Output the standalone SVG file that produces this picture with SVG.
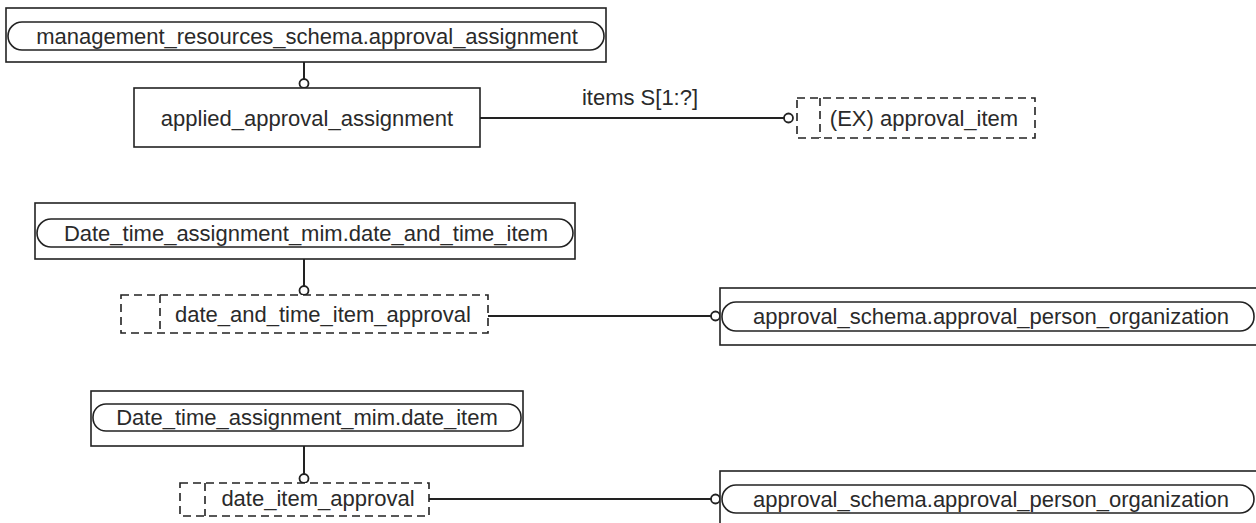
<svg xmlns="http://www.w3.org/2000/svg" width="1256" height="523" viewBox="0 0 1256 523">
<style>
.box{fill:#fff;stroke:#222;stroke-width:1.6}
.dash{fill:#fff;stroke:#222;stroke-width:1.6;stroke-dasharray:8 5}
.dl{fill:none;stroke:#222;stroke-width:1.6;stroke-dasharray:8 5}
.t{font-family:"Liberation Sans",Arial,sans-serif;font-size:22px;fill:#2a2a2a;text-anchor:middle;dominant-baseline:central}
.lbl{font-family:"Liberation Sans",Arial,sans-serif;font-size:22px;fill:#2a2a2a;text-anchor:middle}
.ln{fill:none;stroke:#222;stroke-width:2}
.c{fill:#fff;stroke:#222;stroke-width:1.8}
</style>
<rect width="1256" height="523" fill="#fff"/>
<g id="connectors">
<line class="ln" x1="304" y1="62" x2="304" y2="79"/>
<circle class="c" cx="304" cy="83.5" r="4.5"/>
<line class="ln" x1="480" y1="118" x2="784" y2="118"/>
<circle class="c" cx="788.5" cy="118" r="4.5"/>
<text class="lbl" x="640" y="105">items S[1:?]</text>
<line class="ln" x1="304" y1="259" x2="304" y2="286"/>
<circle class="c" cx="304" cy="290.5" r="4.5"/>
<line class="ln" x1="488" y1="316" x2="711" y2="316"/>
<circle class="c" cx="715.5" cy="316" r="4.5"/>
<line class="ln" x1="304" y1="446" x2="304" y2="474"/>
<circle class="c" cx="304" cy="478.5" r="4.5"/>
<line class="ln" x1="429" y1="499" x2="711" y2="499"/>
<circle class="c" cx="715.5" cy="499" r="4.5"/>
</g>
<g id="n1">
<rect class="box" x="6" y="8" width="600" height="54"/>
<rect class="box" x="8" y="22" width="596" height="28" rx="14"/>
<text class="t" x="307" y="36">management_resources_schema.approval_assignment</text>
</g>
<g id="n2">
<rect class="box" x="134" y="88" width="346" height="59"/>
<text class="t" x="307" y="118">applied_approval_assignment</text>
</g>
<g id="n3">
<rect class="dash" x="797" y="98" width="238" height="40"/>
<line class="dl" x1="820" y1="98" x2="820" y2="138"/>
<text class="t" x="924" y="118">(EX) approval_item</text>
</g>
<g id="n4">
<rect class="box" x="35" y="203" width="540" height="56"/>
<rect class="box" x="37" y="219" width="536" height="28" rx="14"/>
<text class="t" x="306" y="233">Date_time_assignment_mim.date_and_time_item</text>
</g>
<g id="n5">
<rect class="dash" x="121" y="295" width="367" height="38"/>
<line class="dl" x1="160" y1="295" x2="160" y2="333"/>
<text class="t" x="323" y="314">date_and_time_item_approval</text>
</g>
<g id="n6">
<rect class="box" x="720" y="288" width="545" height="57"/>
<rect class="box" x="722" y="302" width="532" height="29" rx="14"/>
<text class="t" x="991" y="316">approval_schema.approval_person_organization</text>
</g>
<g id="n7">
<rect class="box" x="91" y="391" width="432" height="55"/>
<rect class="box" x="93" y="404" width="428" height="27" rx="13"/>
<text class="t" x="307" y="417">Date_time_assignment_mim.date_item</text>
</g>
<g id="n8">
<rect class="dash" x="180" y="483" width="249" height="33"/>
<line class="dl" x1="205" y1="483" x2="205" y2="516"/>
<text class="t" x="318" y="498">date_item_approval</text>
</g>
<g id="n9">
<rect class="box" x="720" y="471" width="545" height="60"/>
<rect class="box" x="722" y="485" width="532" height="28" rx="14"/>
<text class="t" x="991" y="499">approval_schema.approval_person_organization</text>
</g>
</svg>
